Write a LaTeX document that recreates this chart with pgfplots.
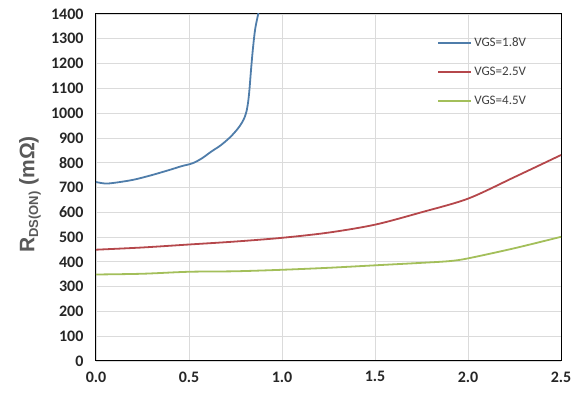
\documentclass[border=0pt]{standalone}
\usepackage{fontspec}
\setmainfont{Carlito}
\newfontfamily\labelfont{Liberation Sans}
\usepackage{pgfplots}
\pgfplotsset{compat=1.18}

\definecolor{vgsblue}{HTML}{4F7DAA}
\definecolor{vgsred}{HTML}{B5474B}
\definecolor{vgsgreen}{HTML}{A3BF5A}
\definecolor{labelgray}{HTML}{595959}

\begin{document}
\begin{tikzpicture}
\begin{axis}[
  width=465pt, height=347pt, scale only axis,
  xmin=0, xmax=2.5, ymin=0, ymax=1400,
  xtick={0,0.5,1,1.5,2,2.5},
  ytick={0,100,...,1400},
  grid=major,
  grid style={draw=gray!28, line width=0.8pt},
  axis line style={black, line width=1pt},
  major tick length=0pt,
  /pgf/number format/assume math mode=true,
  tick label style={font=\fontsize{16}{18}\selectfont\bfseries, text=black!85},
  xticklabel style={yshift=-7pt, /pgf/number format/.cd, fixed, fixed zerofill, precision=1},
  yticklabel style={xshift=-9pt, /pgf/number format/.cd, fixed, set thousands separator={}},
  ylabel={R\raisebox{-0.35ex}{\fontsize{13}{14}\selectfont DS(ON)} (mΩ)},
  ylabel style={at={(axis description cs:-0.142,0.48)}, anchor=center,
    font=\labelfont\bfseries\fontsize{21}{24}\selectfont, text=labelgray},
  legend style={at={(axis cs:1.835,1312)}, anchor=north west, draw=none, fill=none,
    font=\fontsize{13}{15}\selectfont, inner sep=0pt, row sep=15pt,
    legend cell align=left, text=black!75},
  legend image code/.code={\draw[#1, line width=1.8pt] (0pt,0pt) -- (33pt,0pt);},
]
\addplot[vgsblue, line width=1.8pt, smooth] coordinates {
  (0,722)(0.05,716)(0.1,719)(0.2,731)(0.3,750)(0.4,772)(0.46,786)(0.52,798)
  (0.57,818)(0.62,845)(0.67,870)(0.72,902)(0.76,935)(0.785,962)(0.8,985)
  (0.81,1010)(0.818,1045)(0.825,1095)(0.833,1170)(0.843,1255)(0.856,1340)(0.875,1410)};
\addlegendentry{VGS=1.8V}
\addplot[vgsred, line width=1.8pt, smooth] coordinates {
  (0,449)(0.25,458)(0.5,470)(0.75,482)(1.0,497)(1.25,518)(1.5,550)
  (1.75,600)(2.0,655)(2.25,742)(2.5,831)};
\addlegendentry{VGS=2.5V}
\addplot[vgsgreen, line width=1.8pt, smooth] coordinates {
  (0,349)(0.25,352)(0.5,360)(0.75,362)(1.0,368)(1.25,376)(1.5,386)
  (1.75,396)(1.9,403)(2.0,414)(2.25,455)(2.5,501)};
\addlegendentry{VGS=4.5V}
\end{axis}
\pgfresetboundingbox
\path ([shift={(-96pt,-47pt)}]current axis.south west) rectangle ([shift={(19pt,14pt)}]current axis.north east);
\end{tikzpicture}
\end{document}
